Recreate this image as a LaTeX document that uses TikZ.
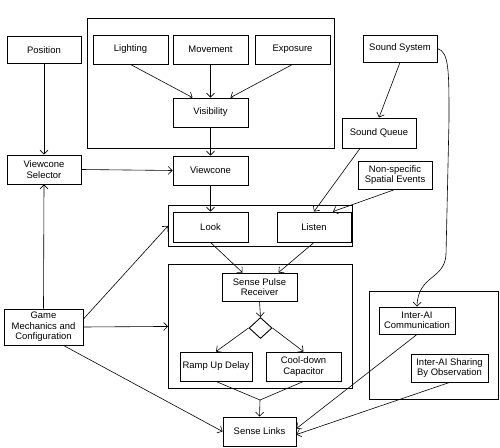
\documentclass[tikz,border=0pt]{standalone}
\usepackage{fontspec}
\setmainfont{Liberation Sans}
\usetikzlibrary{arrows.meta,positioning,shapes.geometric}

\begin{document}
\begin{tikzpicture}[x=1bp,y=-1bp,
  box/.style={draw,line width=0.9bp,minimum width=75bp,minimum height=29bp,inner sep=1bp,align=center,font=\fontsize{9.5}{10.5}\selectfont},
  group/.style={draw,line width=0.9bp,inner sep=0pt,anchor=north west},
  flow/.style={-{Straight Barb[length=4bp,width=8bp]},line width=0.6bp}]
\useasboundingbox (0,0) rectangle (500,448);

% Group frames
\node[group,minimum width=247bp,minimum height=130bp] (visgroup) at (87,18) {};
\node[group,minimum width=184bp,minimum height=41bp] (lookgroup) at (168,205) {};
\node[group,minimum width=184bp,minimum height=124bp] (pulsegroup) at (168,264) {};
\node[group,minimum width=129bp,minimum height=108bp] (aigroup) at (369,291) {};

% Boxes
\node[box,minimum width=74bp,minimum height=27bp] (position) at (44,50) {Position};
\node[box] (lighting) at (130.5,49.5) {Lighting};
\node[box] (movement) at (210.5,49.5) {Movement};
\node[box] (exposure) at (292.5,49.5) {Exposure};
\node[box] (visibility) at (210.5,112.5) {Visibility};
\node[box,minimum width=74bp,minimum height=27bp] (soundsys) at (400,48.5) {Sound System};
\node[box,minimum width=74bp,minimum height=30bp] (soundq) at (379,133) {Sound Queue};
\node[box,minimum width=74bp] (vcsel) at (44,169.5) {Viewcone\\Selector};
\node[box] (viewcone) at (210.5,170.5) {Viewcone};
\node[box,minimum width=74bp,minimum height=28bp] (nonspec) at (395,175) {Non-specific\\Spatial Events};
\node[box,minimum height=30bp] (look) at (210.5,227) {Look};
\node[box,minimum width=74bp,minimum height=30bp] (listen) at (314,227) {Listen};
\node[box,minimum height=28bp] (spr) at (259.5,287) {Sense Pulse\\Receiver};
\node[draw,diamond,line width=0.9bp,minimum width=23bp,minimum height=21bp,inner sep=0pt] (decide) at (260.5,328) {};
\node[box,minimum width=72bp] (ramp) at (216,366.5) {Ramp Up Delay};
\node[box] (cool) at (303.5,366.5) {Cool-down\\Capacitor};
\node[box,minimum width=79bp,minimum height=36bp] (game) at (43.5,327) {Game\\Mechanics and\\Configuration};
\node[box,minimum width=73bp] (links) at (259.5,431.5) {Sense Links};
\node[box,minimum width=76bp,minimum height=27bp] (comm) at (417,320.5) {Inter-AI\\Communication};
\node[box,minimum width=77bp,minimum height=28bp] (share) at (449.5,368) {Inter-AI Sharing\\By Observation};

% Visibility chain
\draw[flow] (lighting.south) -- ([xshift=-18bp]visibility.north);
\draw[flow] (movement.south) -- (visibility.north);
\draw[flow] (exposure.south) -- ([xshift=20bp]visibility.north);
\draw[flow] (visibility.south) -- (viewcone.north);
\draw[flow] (position.south) -- (vcsel.north);
\draw[flow] (vcsel.east) -- (viewcone.west);
\draw[flow] (viewcone.south) -- (look.north);

% Sound chain
\draw[flow] (soundsys.south) -- (soundq.north);
\draw[flow] ([xshift=-19bp]soundq.south) -- (listen.north);
\draw[flow] (nonspec.south) -- ([xshift=19bp]listen.north);
\draw[flow] (soundsys.east) .. controls (449,52) and (449,70) .. (449,120) -- (446,255)
  .. controls (444,280) and (418,275) .. (comm.north);

% Sense pulse
\draw[flow] (look.south) -- ([xshift=-17bp]spr.north);
\draw[flow] (listen.south) -- ([xshift=19bp]spr.north);
\draw[flow] (spr.south) -- (decide.north);
\draw[flow] (decide.west) -- (ramp.north);
\draw[flow] (decide.east) -- (cool.north);
\coordinate (merge) at (260,400);
\draw[line width=0.6bp] (ramp.south) -- (merge) -- (cool.south);
\draw[flow] (merge) -- (links.north);

% Game mechanics
\draw[flow] (game.north) -- (vcsel.south);
\draw[flow] ([yshift=8bp]game.east) -- (lookgroup.west);
\draw[flow] (game.east) -- (pulsegroup.west);
\draw[flow] ([xshift=20bp]game.south) -- (links.west);

% Inter-AI
\draw[flow] (comm.south) -- ([yshift=3bp]links.east);
\draw[flow] (share.south) -- ([yshift=-3bp]links.east);
\end{tikzpicture}
\end{document}
